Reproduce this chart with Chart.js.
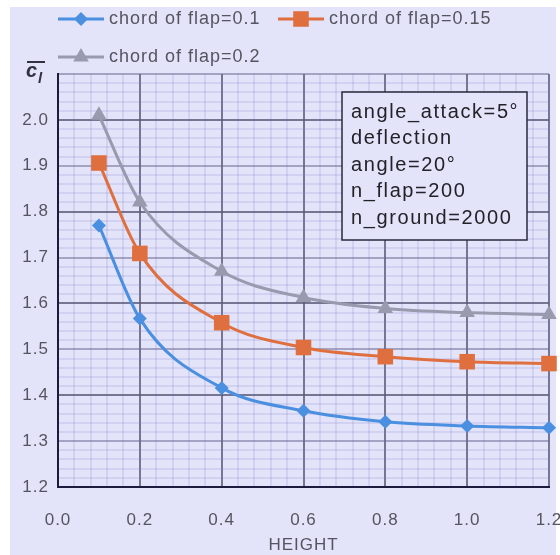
<!DOCTYPE html>
<html>
<head>
<meta charset="utf-8">
<script src="https://cdn.jsdelivr.net/npm/chart.js@4.4.0/dist/chart.umd.min.js"></script>
<style>
html, body { margin: 0; padding: 0; background: #fff; }
#wrap { width: 560px; height: 555px; }
</style>
</head>
<body>
<div id="wrap"><canvas id="chart" width="560" height="555"></canvas></div>
<script>
// data
var heights = [0.1, 0.2, 0.4, 0.6, 0.8, 1.0, 1.2]
var cl_flap_01 = [1.770, 1.567, 1.416, 1.366, 1.342, 1.333, 1.329]
var cl_flap_015 = [1.906, 1.709, 1.558, 1.504, 1.484, 1.473, 1.469]
var cl_flap_02 = [2.010, 1.821, 1.670, 1.613, 1.589, 1.580, 1.576]
var series_names = ["chord of flap=0.1", "chord of flap=0.15", "chord of flap=0.2"]
var box_lines = ["angle_attack=5°", "deflection", "angle=20°", "n_flap=200", "n_ground=2000"]
var x_title = "HEIGHT"

var colors = ["#4a8fe0", "#df6f3e", "#9a9aae"]
var point_styles = ["rectRot", "rect", "triangle"]
var point_radius = [7, 11, 9]
var bg = "#e3e3fa"
var text_color = "#55555f"
var font_name = "'Liberation Sans', Arial, sans-serif"

function toPoints(xs, ys) {
    var pts = []
    for (var i = 0; i < xs.length; i++) pts.push({x: xs[i], y: ys[i]})
    return pts
}

function makeDataset(i, values) {
    return {
        label: series_names[i],
        data: toPoints(heights, values),
        borderColor: colors[i],
        backgroundColor: colors[i],
        borderWidth: 3,
        pointStyle: point_styles[i],
        pointRadius: point_radius[i],
        pointBorderWidth: 0,
        clip: false,
        cubicInterpolationMode: "monotone"
    }
}

function marker(ctx, i, x, y) {
    ctx.save()
    ctx.fillStyle = colors[i]
    ctx.strokeStyle = colors[i]
    Chart.helpers.drawPoint(ctx, {pointStyle: point_styles[i], radius: point_radius[i], rotation: 0, borderWidth: 0}, x, y)
    ctx.restore()
}

var backgroundPlugin = {
    id: "bgfill",
    beforeDraw: function(chart) {
        var ctx = chart.ctx
        ctx.save()
        ctx.fillStyle = "#ffffff"
        ctx.fillRect(0, 0, chart.width, chart.height)
        ctx.fillStyle = bg
        ctx.fillRect(10, 7, 546, 548)
        ctx.restore()
        // the original font is a bit wider
        ctx.letterSpacing = "1px"
    }
}

var extrasPlugin = {
    id: "extras",
    afterDraw: function(chart) {
        var ctx = chart.ctx
        ctx.save()

        // legend
        var rows = [[58, 19, 0], [278, 19, 1], [58, 57, 2]]
        ctx.font = "18px " + font_name
        ctx.letterSpacing = "1px"
        ctx.textBaseline = "middle"
        for (var r = 0; r < rows.length; r++) {
            var lx = rows[r][0], ly = rows[r][1], i = rows[r][2]
            ctx.strokeStyle = colors[i]
            ctx.lineWidth = 3
            ctx.beginPath()
            ctx.moveTo(lx, ly)
            ctx.lineTo(lx + 46, ly)
            ctx.stroke()
            marker(ctx, i, lx + 23, ly)
            ctx.fillStyle = text_color
            ctx.fillText(series_names[i], lx + 51, ly)
        }

        // y axis symbol (c bar, subscript l)
        ctx.letterSpacing = "0px"
        ctx.fillStyle = "#333340"
        ctx.font = "italic bold 20px " + font_name
        ctx.textBaseline = "alphabetic"
        ctx.fillText("c", 26, 77)
        ctx.font = "italic bold 15px " + font_name
        ctx.fillText("l", 38, 83)
        ctx.strokeStyle = "#333340"
        ctx.lineWidth = 2
        ctx.beginPath()
        ctx.moveTo(27, 62)
        ctx.lineTo(45, 62)
        ctx.stroke()

        // parameter box
        var bx = 342, by = 92, bw = 185, bh = 148
        ctx.fillStyle = bg
        ctx.fillRect(bx, by, bw, bh)
        ctx.strokeStyle = "#2a2a3a"
        ctx.lineWidth = 1.5
        ctx.strokeRect(bx, by, bw, bh)
        ctx.fillStyle = "#222228"
        ctx.font = "20px " + font_name
        ctx.letterSpacing = "1.6px"
        ctx.textBaseline = "middle"
        for (var k = 0; k < box_lines.length; k++) {
            ctx.fillText(box_lines[k], bx + 9, by + 20 + k * 26.5)
        }
        ctx.restore()
    }
}

function gridY(c) {
    var k = Math.round(c.tick.value * 100)
    if (k % 20 == 0) return "rgba(90,90,120,0.8)"
    if (k % 10 == 0) return "rgba(100,100,140,0.5)"
    return "rgba(130,130,200,0.18)"
}

function gridX(c) {
    var k = Math.round(c.tick.value * 100)
    if (k % 20 == 0) return "rgba(90,90,120,0.8)"
    return "rgba(130,130,200,0.18)"
}

new Chart(document.getElementById("chart"), {
    type: "line",
    data: {
        datasets: [makeDataset(0, cl_flap_01), makeDataset(1, cl_flap_015), makeDataset(2, cl_flap_02)]
    },
    options: {
        responsive: false,
        animation: false,
        layout: { padding: { left: 0, top: 74, right: 10, bottom: 0 } },
        plugins: {
            legend: { display: false },
            tooltip: { enabled: false }
        },
        scales: {
            x: {
                type: "linear",
                min: 0,
                max: 1.2,
                afterFit: function(scale) {
                    scale.height = 68
                    scale.paddingLeft = 0
                    scale.paddingRight = 0
                },
                grid: { color: gridX, lineWidth: 2, drawTicks: false },
                border: { color: "#1c1c40", width: 2 },
                ticks: {
                    stepSize: 0.04,
                    autoSkip: false,
                    maxTicksLimit: 200,
                    maxRotation: 0,
                    padding: 23,
                    color: text_color,
                    font: { size: 17, family: font_name },
                    callback: function(v) {
                        var k = Math.round(v * 100)
                        return k % 20 == 0 ? (k / 100).toFixed(1) : ""
                    }
                },
                title: {
                    display: true,
                    text: x_title,
                    color: text_color,
                    font: { size: 17, family: font_name },
                    padding: { top: 0, bottom: -1 }
                }
            },
            y: {
                min: 1.2,
                max: 2.1,
                afterFit: function(scale) {
                    scale.width = 58
                    scale.paddingTop = 0
                    scale.paddingBottom = 0
                },
                grid: { color: gridY, lineWidth: 2, drawTicks: false },
                border: { color: "#1c1c40", width: 2 },
                ticks: {
                    stepSize: 0.02,
                    autoSkip: false,
                    maxTicksLimit: 200,
                    padding: 9,
                    color: text_color,
                    font: { size: 17, family: font_name },
                    callback: function(v) {
                        var k = Math.round(v * 100)
                        return (k % 10 == 0 && k <= 200) ? (k / 100).toFixed(1) : ""
                    }
                }
            }
        }
    },
    plugins: [backgroundPlugin, extrasPlugin]
})
</script>
</body>
</html>
